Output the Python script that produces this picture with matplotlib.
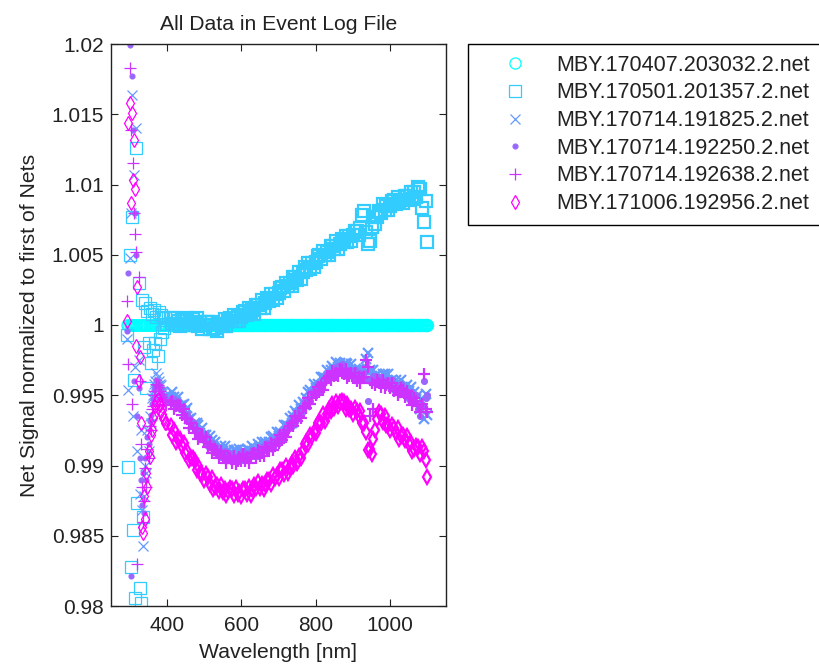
import matplotlib
matplotlib.use("Agg")
import matplotlib.pyplot as plt

plt.rcParams['font.family'] = ['Liberation Sans', 'DejaVu Sans']

# ---------------------------------------------------------------------------
# Data (wavelength in nm, net signal normalised to 1st net)
# ---------------------------------------------------------------------------

# UV part (3 nm steps) then visible/NIR part (5 nm steps)
wl_uv = [294, 297, 300, 303, 306, 309,
         312, 315, 318, 321, 324, 327,
         330, 333, 336, 339, 342, 345,
         348, 351, 354, 357, 360, 363,
         366, 369, 372, 375, 378, 381,
         384, 387, 390, 393, 396, 399]
wl_vis = [410, 415, 420, 425, 430, 435, 440, 445, 450, 455,
          460, 465, 470, 475, 480, 485, 490, 495, 500, 505,
          510, 515, 520, 525, 530, 535, 540, 545, 550, 555,
          560, 565, 570, 575, 580, 585, 590, 595, 600, 605,
          610, 615, 620, 625, 630, 635, 640, 645, 650, 655,
          660, 665, 670, 675, 680, 685, 690, 695, 700, 705,
          710, 715, 720, 725, 730, 735, 740, 745, 750, 755,
          760, 765, 770, 775, 780, 785, 790, 795, 800, 805,
          810, 815, 820, 825, 830, 835, 840, 845, 850, 855,
          860, 865, 870, 875, 880, 885, 890, 895, 900, 905,
          910, 915, 920, 925, 930, 935, 940, 945, 950, 955,
          960, 965, 970, 975, 980, 985, 990, 995, 1000, 1005,
          1010, 1015, 1020, 1025, 1030, 1035, 1040, 1045, 1050, 1055,
          1060, 1065, 1070, 1075, 1080, 1085, 1090, 1095, 1100]
wavelength = wl_uv + wl_vis

# MBY.170407.203032.2.net (the reference file itself: 1 everywhere)
net_170407 = [1.0, 1.0, 1.0, 1.0, 1.0, 1.0,
              1.0, 1.0, 1.0, 1.0, 1.0, 1.0,
              1.0, 1.0, 1.0, 1.0, 1.0, 1.0,
              1.0, 1.0, 1.0, 1.0, 1.0, 1.0,
              1.0, 1.0, 1.0, 1.0, 1.0, 1.0,
              1.0, 1.0, 1.0, 1.0, 1.0, 1.0,
              1.0, 1.0, 1.0, 1.0, 1.0, 1.0, 1.0, 1.0, 1.0, 1.0,
              1.0, 1.0, 1.0, 1.0, 1.0, 1.0, 1.0, 1.0, 1.0, 1.0,
              1.0, 1.0, 1.0, 1.0, 1.0, 1.0, 1.0, 1.0, 1.0, 1.0,
              1.0, 1.0, 1.0, 1.0, 1.0, 1.0, 1.0, 1.0, 1.0, 1.0,
              1.0, 1.0, 1.0, 1.0, 1.0, 1.0, 1.0, 1.0, 1.0, 1.0,
              1.0, 1.0, 1.0, 1.0, 1.0, 1.0, 1.0, 1.0, 1.0, 1.0,
              1.0, 1.0, 1.0, 1.0, 1.0, 1.0, 1.0, 1.0, 1.0, 1.0,
              1.0, 1.0, 1.0, 1.0, 1.0, 1.0, 1.0, 1.0, 1.0, 1.0,
              1.0, 1.0, 1.0, 1.0, 1.0, 1.0, 1.0, 1.0, 1.0, 1.0,
              1.0, 1.0, 1.0, 1.0, 1.0, 1.0, 1.0, 1.0, 1.0, 1.0,
              1.0, 1.0, 1.0, 1.0, 1.0, 1.0, 1.0, 1.0, 1.0, 1.0,
              1.0, 1.0, 1.0, 1.0, 1.0, 1.0, 1.0, 1.0, 1.0, 1.0,
              1.0, 1.0, 1.0, 1.0, 1.0, 1.0, 1.0, 1.0, 1.0, 1.0,
              1.0, 1.0, 1.0, 1.0, 1.0, 1.0, 1.0, 1.0, 1.0]

# MBY.170501.201357.2.net
net_170501 = [0.9993, 0.9899, 1.0050, 0.9828, 1.0077, 0.9854,
              0.9961, 0.9806, 1.0126, 0.9873, 1.0030, 0.9813,
              0.9802, 1.0018, 0.9863, 0.9984, 1.0016, 0.9955,
              1.0010, 0.9987, 1.0012, 0.9973, 1.0008, 0.9982,
              1.0011, 0.9987, 1.0006, 0.9978, 1.0009, 0.9990,
              1.0007, 0.9995, 1.0006, 0.9998, 1.0005, 1.0001,
              1.0005, 1.0001, 1.0005, 1.0001, 1.0003, 0.9999, 1.0004, 1.0003, 1.0000, 1.0005,
              1.0000, 1.0002, 1.0004, 1.0001, 1.0005, 0.9999, 1.0002, 0.9997, 1.0000, 1.0002,
              1.0002, 0.9997, 1.0002, 0.9997, 0.9998, 0.9996, 1.0001, 1.0001, 0.9999, 1.0004,
              0.9999, 1.0003, 1.0005, 1.0003, 1.0007, 1.0003, 1.0006, 1.0003, 1.0006, 1.0009,
              1.0010, 1.0007, 1.0012, 1.0009, 1.0011, 1.0008, 1.0014, 1.0014, 1.0012, 1.0018,
              1.0012, 1.0016, 1.0019, 1.0017, 1.0022, 1.0018, 1.0022, 1.0019, 1.0023, 1.0026,
              1.0027, 1.0024, 1.0030, 1.0028, 1.0030, 1.0028, 1.0034, 1.0034, 1.0032, 1.0038,
              1.0033, 1.0038, 1.0041, 1.0039, 1.0044, 1.0040, 1.0044, 1.0041, 1.0045, 1.0049,
              1.0050, 1.0047, 1.0053, 1.0050, 1.0052, 1.0050, 1.0056, 1.0056, 1.0054, 1.0060,
              1.0054, 1.0058, 1.0061, 1.0059, 1.0063, 1.0059, 1.0063, 1.0060, 1.0064, 1.0067,
              1.0067, 1.0064, 1.0069, 1.0078, 1.0081, 1.0066, 1.0058, 1.0060, 1.0070, 1.0077,
              1.0072, 1.0077, 1.0081, 1.0080, 1.0086, 1.0082, 1.0085, 1.0082, 1.0085, 1.0088,
              1.0089, 1.0086, 1.0091, 1.0088, 1.0089, 1.0087, 1.0092, 1.0092, 1.0089, 1.0095,
              1.0090, 1.0095, 1.0091, 1.0098, 1.0097, 1.0083, 1.0073, 1.0088, 1.0059]

# MBY.170714.191825.2.net
net_191825 = [0.9990, 0.9954, 1.0048, 1.0080, 1.0164, 0.9935,
              1.0107, 0.9970, 1.0140, 0.9910, 0.9975, 0.9880,
              0.9925, 0.9868, 0.9843, 0.9878, 0.9900, 0.9895,
              0.9925, 0.9910, 0.9935, 0.9930, 0.9948, 0.9950,
              0.9958, 0.9960, 0.9966, 0.9963, 0.9960, 0.9958,
              0.9957, 0.9953, 0.9952, 0.9949, 0.9950, 0.9946,
              0.9949, 0.9952, 0.9949, 0.9945, 0.9949, 0.9942, 0.9943, 0.9944, 0.9939, 0.9941,
              0.9933, 0.9934, 0.9928, 0.9930, 0.9930, 0.9929, 0.9923, 0.9927, 0.9922, 0.9922,
              0.9917, 0.9921, 0.9918, 0.9914, 0.9917, 0.9910, 0.9912, 0.9914, 0.9910, 0.9914,
              0.9908, 0.9911, 0.9906, 0.9909, 0.9911, 0.9911, 0.9906, 0.9912, 0.9908, 0.9910,
              0.9907, 0.9912, 0.9911, 0.9909, 0.9914, 0.9909, 0.9912, 0.9915, 0.9912, 0.9917,
              0.9913, 0.9917, 0.9913, 0.9917, 0.9920, 0.9921, 0.9917, 0.9924, 0.9921, 0.9924,
              0.9922, 0.9929, 0.9929, 0.9928, 0.9934, 0.9930, 0.9935, 0.9939, 0.9937, 0.9943,
              0.9940, 0.9945, 0.9943, 0.9948, 0.9952, 0.9954, 0.9951, 0.9958, 0.9955, 0.9958,
              0.9956, 0.9963, 0.9963, 0.9962, 0.9968, 0.9964, 0.9968, 0.9971, 0.9969, 0.9974,
              0.9970, 0.9973, 0.9969, 0.9972, 0.9973, 0.9972, 0.9967, 0.9972, 0.9967, 0.9968,
              0.9964, 0.9969, 0.9968, 0.9965, 0.9969, 0.9976, 0.9980, 0.9968, 0.9964, 0.9968,
              0.9963, 0.9965, 0.9960, 0.9963, 0.9965, 0.9965, 0.9960, 0.9965, 0.9960, 0.9961,
              0.9957, 0.9961, 0.9959, 0.9956, 0.9961, 0.9954, 0.9956, 0.9957, 0.9953, 0.9956,
              0.9949, 0.9952, 0.9947, 0.9950, 0.9940, 0.9946, 0.9933, 0.9951, 0.9936]

# MBY.170714.192250.2.net
net_192250 = [0.9996, 1.0037, 1.0199, 0.9821, 1.0177, 1.0139,
              0.9960, 1.0080, 1.0050, 0.9935, 0.9955, 0.9905,
              0.9890, 0.9872, 0.9895, 0.9866, 0.9905, 0.9890,
              0.9920, 0.9915, 0.9932, 0.9936, 0.9944, 0.9947,
              0.9954, 0.9956, 0.9961, 0.9960, 0.9958, 0.9955,
              0.9954, 0.9951, 0.9949, 0.9949, 0.9946, 0.9946,
              0.9946, 0.9947, 0.9947, 0.9943, 0.9946, 0.9940, 0.9941, 0.9936, 0.9937, 0.9937,
              0.9934, 0.9928, 0.9931, 0.9926, 0.9925, 0.9921, 0.9924, 0.9922, 0.9918, 0.9922,
              0.9914, 0.9916, 0.9916, 0.9912, 0.9914, 0.9908, 0.9910, 0.9906, 0.9908, 0.9910,
              0.9909, 0.9905, 0.9909, 0.9905, 0.9906, 0.9903, 0.9907, 0.9907, 0.9904, 0.9910,
              0.9904, 0.9907, 0.9909, 0.9907, 0.9911, 0.9907, 0.9910, 0.9907, 0.9910, 0.9913,
              0.9914, 0.9911, 0.9916, 0.9913, 0.9915, 0.9913, 0.9918, 0.9919, 0.9917, 0.9924,
              0.9919, 0.9924, 0.9927, 0.9926, 0.9931, 0.9928, 0.9933, 0.9931, 0.9935, 0.9939,
              0.9941, 0.9939, 0.9946, 0.9944, 0.9947, 0.9946, 0.9952, 0.9953, 0.9951, 0.9958,
              0.9953, 0.9958, 0.9961, 0.9960, 0.9965, 0.9962, 0.9966, 0.9963, 0.9967, 0.9970,
              0.9971, 0.9967, 0.9972, 0.9968, 0.9968, 0.9964, 0.9968, 0.9967, 0.9963, 0.9968,
              0.9961, 0.9964, 0.9966, 0.9963, 0.9966, 0.9961, 0.9946, 0.9960, 0.9962, 0.9964,
              0.9964, 0.9959, 0.9963, 0.9959, 0.9960, 0.9957, 0.9961, 0.9960, 0.9956, 0.9961,
              0.9954, 0.9956, 0.9957, 0.9954, 0.9958, 0.9952, 0.9954, 0.9949, 0.9951, 0.9952,
              0.9950, 0.9946, 0.9950, 0.9940, 0.9935, 0.9943, 0.9960, 0.9948, 0.9950]

# MBY.170714.192638.2.net
net_192638 = [1.0017, 0.9972, 1.0183, 1.0139, 0.9944, 1.0115,
              1.0080, 1.0065, 1.0052, 0.9830, 1.0034, 0.9960,
              0.9915, 0.9885, 0.9860, 0.9875, 0.9898, 0.9885,
              0.9912, 0.9905, 0.9928, 0.9925, 0.9940, 0.9942,
              0.9950, 0.9953, 0.9958, 0.9957, 0.9956, 0.9953,
              0.9951, 0.9949, 0.9947, 0.9946, 0.9944, 0.9943,
              0.9945, 0.9946, 0.9940, 0.9942, 0.9943, 0.9942, 0.9936, 0.9940, 0.9934, 0.9933,
              0.9927, 0.9930, 0.9927, 0.9923, 0.9926, 0.9919, 0.9920, 0.9921, 0.9917, 0.9920,
              0.9913, 0.9915, 0.9909, 0.9911, 0.9911, 0.9910, 0.9905, 0.9910, 0.9905, 0.9906,
              0.9902, 0.9907, 0.9905, 0.9902, 0.9907, 0.9901, 0.9903, 0.9906, 0.9903, 0.9908,
              0.9903, 0.9906, 0.9902, 0.9906, 0.9908, 0.9909, 0.9905, 0.9911, 0.9907, 0.9909,
              0.9907, 0.9913, 0.9912, 0.9910, 0.9916, 0.9911, 0.9914, 0.9918, 0.9916, 0.9922,
              0.9918, 0.9923, 0.9920, 0.9925, 0.9928, 0.9930, 0.9928, 0.9935, 0.9932, 0.9935,
              0.9934, 0.9941, 0.9942, 0.9941, 0.9948, 0.9944, 0.9948, 0.9952, 0.9950, 0.9956,
              0.9952, 0.9957, 0.9954, 0.9959, 0.9962, 0.9964, 0.9961, 0.9967, 0.9964, 0.9966,
              0.9964, 0.9969, 0.9968, 0.9965, 0.9969, 0.9962, 0.9964, 0.9966, 0.9962, 0.9966,
              0.9960, 0.9963, 0.9959, 0.9962, 0.9963, 0.9975, 0.9970, 0.9935, 0.9959, 0.9940,
              0.9957, 0.9961, 0.9959, 0.9956, 0.9961, 0.9955, 0.9957, 0.9959, 0.9955, 0.9959,
              0.9953, 0.9955, 0.9950, 0.9953, 0.9955, 0.9954, 0.9949, 0.9953, 0.9948, 0.9948,
              0.9943, 0.9948, 0.9946, 0.9942, 0.9938, 0.9944, 0.9965, 0.9940, 0.9938]

# MBY.171006.192956.2.net
net_171006 = [1.0003, 1.0144, 1.0158, 1.0087, 1.0151, 1.0103,
              1.0132, 1.0097, 0.9985, 1.0027, 0.9960, 0.9977,
              0.9930, 0.9856, 0.9852, 0.9878, 0.9862, 0.9895,
              0.9885, 0.9910, 0.9906, 0.9922, 0.9925, 0.9934,
              0.9936, 0.9942, 0.9945, 0.9947, 0.9944, 0.9943,
              0.9939, 0.9937, 0.9934, 0.9933, 0.9930, 0.9930,
              0.9928, 0.9922, 0.9925, 0.9917, 0.9919, 0.9919, 0.9914, 0.9916, 0.9909, 0.9910,
              0.9904, 0.9905, 0.9905, 0.9903, 0.9897, 0.9900, 0.9895, 0.9894, 0.9890, 0.9894,
              0.9892, 0.9887, 0.9891, 0.9883, 0.9885, 0.9886, 0.9882, 0.9886, 0.9881, 0.9883,
              0.9879, 0.9882, 0.9884, 0.9883, 0.9879, 0.9884, 0.9880, 0.9881, 0.9878, 0.9883,
              0.9883, 0.9880, 0.9885, 0.9879, 0.9883, 0.9886, 0.9884, 0.9888, 0.9884, 0.9887,
              0.9883, 0.9887, 0.9890, 0.9890, 0.9887, 0.9893, 0.9891, 0.9893, 0.9891, 0.9897,
              0.9897, 0.9894, 0.9900, 0.9895, 0.9899, 0.9902, 0.9900, 0.9905, 0.9902, 0.9907,
              0.9905, 0.9910, 0.9915, 0.9917, 0.9915, 0.9922, 0.9921, 0.9924, 0.9923, 0.9930,
              0.9931, 0.9930, 0.9937, 0.9932, 0.9937, 0.9940, 0.9939, 0.9944, 0.9941, 0.9945,
              0.9942, 0.9945, 0.9946, 0.9945, 0.9940, 0.9944, 0.9940, 0.9940, 0.9937, 0.9941,
              0.9939, 0.9935, 0.9939, 0.9930, 0.9930, 0.9924, 0.9911, 0.9912, 0.9908, 0.9919,
              0.9925, 0.9933, 0.9938, 0.9937, 0.9931, 0.9935, 0.9929, 0.9929, 0.9925, 0.9929,
              0.9927, 0.9923, 0.9927, 0.9919, 0.9921, 0.9922, 0.9918, 0.9921, 0.9915, 0.9916,
              0.9910, 0.9912, 0.9914, 0.9913, 0.9908, 0.9913, 0.9910, 0.9904, 0.9892]

labels = ['MBY.170407.203032.2.net', 'MBY.170501.201357.2.net',
          'MBY.170714.191825.2.net', 'MBY.170714.192250.2.net',
          'MBY.170714.192638.2.net', 'MBY.171006.192956.2.net']
series = [net_170407, net_170501, net_191825, net_192250, net_192638, net_171006]

y_ticks = [0.98, 0.985, 0.99, 0.995, 1.0, 1.005, 1.01, 1.015, 1.02]
y_tick_labels = ['0.98', '0.985', '0.99', '0.995', '1', '1.005', '1.01', '1.015', '1.02']
x_ticks = [400, 600, 800, 1000]

# style (MATLAB "cool" colormap, one marker per file)
colors = [(0.0, 1.0, 1.0), (0.2, 0.8, 1.0), (0.4, 0.6, 1.0),
          (0.6, 0.4, 1.0), (0.8, 0.2, 1.0), (1.0, 0.0, 1.0)]
markers = ['o', 's', 'x', '.', '+', 'd']
sizes = [8, 8, 7, 7, 9, 7.5]
txt = '#222222'

# ---------------------------------------------------------------------------
# Plot
# ---------------------------------------------------------------------------
fig = plt.figure(figsize=(8.2, 6.67), dpi=100)
ax = fig.add_axes([111 / 820, 61 / 667, 335 / 820, 562 / 667])

n_uv = len(wl_uv)
for vals, lab, col, mk, ms in zip(series, labels, colors, markers, sizes):
    face = col if mk == '.' else 'none'
    # scattered UV points: thin outlines, dense bands: heavier outlines
    ax.plot(wavelength[:n_uv], vals[:n_uv], linestyle='none', marker=mk,
            markersize=ms, markerfacecolor=face, markeredgecolor=col,
            markeredgewidth=0.9, label='_nolegend_')
    ax.plot(wavelength[n_uv:], vals[n_uv:], linestyle='none', marker=mk,
            markersize=ms, markerfacecolor=face, markeredgecolor=col,
            markeredgewidth=1.6, label=lab)

ax.set_xlim(250, 1150)
ax.set_ylim(0.98, 1.02)
ax.set_xticks(x_ticks)
ax.set_yticks(y_ticks)
ax.set_yticklabels(y_tick_labels)
ax.tick_params(direction='in', top=True, right=True, length=5, width=0.8,
               labelsize=15, colors=txt)
ax.tick_params(axis='x', pad=7)
ax.tick_params(axis='y', pad=5)
for sp in ax.spines.values():
    sp.set_linewidth(1.0)
    sp.set_color(txt)

ax.set_title('All Data in Event Log File', fontsize=15.2, pad=10, color=txt)
ax.set_xlabel('Wavelength [nm]', fontsize=15.2, labelpad=6, color=txt)
ax.set_ylabel('Net Signal normalized to first of Nets', fontsize=15.2,
              labelpad=9, color=txt)

leg = fig.legend(loc='upper left', bbox_to_anchor=(468 / 820, 1 - 44 / 667),
                 bbox_transform=fig.transFigure, fancybox=False,
                 edgecolor='black', framealpha=1, fontsize=15.5,
                 borderpad=0.5, handlelength=3.4, handletextpad=0.2,
                 labelspacing=0.31, borderaxespad=0)
leg.get_frame().set_linewidth(1.0)
for h in leg.legend_handles:
    h.set_markeredgewidth(0.9)
for t in leg.get_texts():
    t.set_color(txt)

fig.savefig('out.png', dpi=100)
